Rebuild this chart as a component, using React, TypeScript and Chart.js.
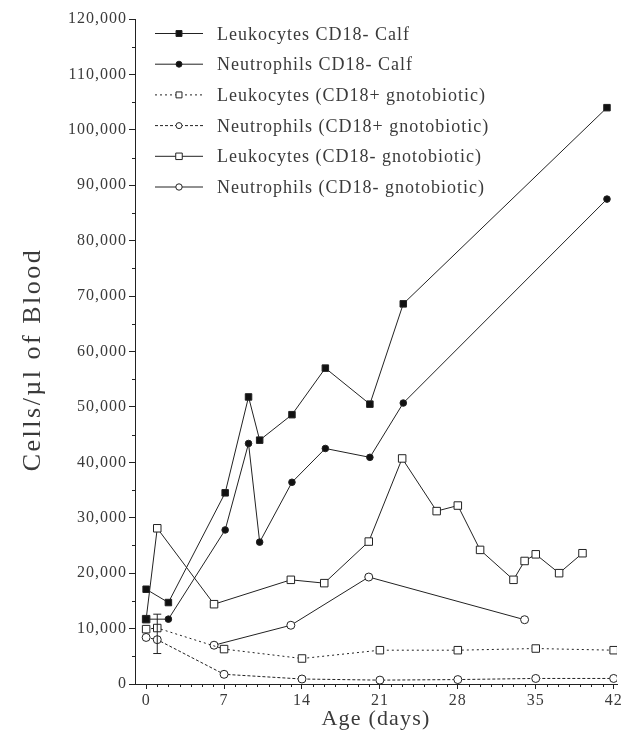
import React, { useEffect, useRef } from "react";
import { Chart, registerables } from "chart.js";

Chart.register(...registerables);

// Axis ticks
const xTickValues = [0, 7, 14, 21, 28, 35, 42];
const yTickValues = [0, 10000, 20000, 30000, 40000, 50000, 60000, 70000, 80000, 90000, 100000, 110000, 120000];
const xMinorStep = 1;
const yMinorStep = 5000;

// Series labels
const seriesLabels = [
  "Leukocytes CD18- Calf",
  "Neutrophils CD18- Calf",
  "Leukocytes (CD18+ gnotobiotic)",
  "Neutrophils (CD18+ gnotobiotic)",
  "Leukocytes (CD18- gnotobiotic)",
  "Neutrophils (CD18- gnotobiotic)",
];

// CD18- calf
const calfDays = [0, 2, 7.1, 9.2, 10.2, 13.1, 16.1, 20.1, 23.1, 41.4];
const leukocytesCalf = [17100, 14700, 34500, 51800, 44000, 48600, 57000, 50500, 68600, 104000];
const neutrophilsCalf = [11700, 11700, 27800, 43400, 25600, 36400, 42500, 40900, 50700, 87500];

// CD18+ gnotobiotic
const plusGnotoDays = [0, 1, 7, 14, 21, 28, 35, 42];
const leukocytesPlusGnoto = [9900, 10100, 6300, 4600, 6100, 6100, 6400, 6100];
const neutrophilsPlusGnoto = [8400, 8000, 1750, 900, 700, 800, 1000, 1000];

// CD18- gnotobiotic
const leukMinusGnotoDays = [0, 1, 6.1, 13, 16, 20, 23, 26.1, 28, 30, 33, 34, 35, 37.1, 39.2];
const leukocytesMinusGnoto = [11700, 28100, 14400, 18800, 18200, 25700, 40700, 31200, 32200, 24200, 18800, 22200, 23400, 20000, 23600];
const neutMinusGnotoDays = [6.1, 13, 20, 34];
const neutrophilsMinusGnoto = [7000, 10600, 19300, 11600];

// Error bar
const errorDays = [1];
const errorLow = [5500];
const errorHigh = [12600];

const INK = "#222";
const TEXT = "#3a3a3a";

type SeriesDef = {
  label: string;
  days: number[];
  values: number[];
  shape: "rect" | "circle";
  filled: boolean;
  dash: number[];
  radius: number;
  legendRadius: number;
};

export default function App() {
  const ref = useRef<HTMLCanvasElement>(null);

  useEffect(() => {
    if (!ref.current) return;
    const series: SeriesDef[] = [
      { label: seriesLabels[0], days: calfDays, values: leukocytesCalf, shape: "rect", filled: true, dash: [], radius: 4.6, legendRadius: 4.2 },
      { label: seriesLabels[1], days: calfDays, values: neutrophilsCalf, shape: "circle", filled: true, dash: [], radius: 3.3, legendRadius: 3 },
      { label: seriesLabels[2], days: plusGnotoDays, values: leukocytesPlusGnoto, shape: "rect", filled: false, dash: [2, 3], radius: 5.3, legendRadius: 4.2 },
      { label: seriesLabels[3], days: plusGnotoDays, values: neutrophilsPlusGnoto, shape: "circle", filled: false, dash: [3, 2], radius: 4, legendRadius: 3 },
      { label: seriesLabels[4], days: leukMinusGnotoDays, values: leukocytesMinusGnoto, shape: "rect", filled: false, dash: [], radius: 5.3, legendRadius: 4.6 },
      { label: seriesLabels[5], days: neutMinusGnotoDays, values: neutrophilsMinusGnoto, shape: "circle", filled: false, dash: [], radius: 4, legendRadius: 3.2 },
    ];

    const datasets = series.map((s, si) => ({
      label: s.label,
      data: s.days.map((d, i) => ({ x: d, y: s.values[i] })),
      borderColor: INK,
      borderWidth: 1,
      borderDash: s.dash,
      pointStyle: si === 1 ? (c: any) => (c.dataIndex === 0 ? "rect" : "circle") : s.shape,
      pointRadius: si === 1 ? (c: any) => (c.dataIndex === 0 ? 4.6 : s.radius) : s.radius,
      pointBackgroundColor: s.filled ? "#111" : "#fff",
      pointBorderColor: INK,
      pointBorderWidth: 1,
      pointHoverRadius: s.radius,
      tension: 0,
      fill: false,
    }));

    const drawMarker = (ctx: CanvasRenderingContext2D, x: number, y: number, s: SeriesDef) => {
      ctx.beginPath();
      if (s.shape === "rect") {
        const h = s.legendRadius * Math.SQRT1_2;
        ctx.rect(x - h, y - h, 2 * h, 2 * h);
      } else {
        ctx.arc(x, y, s.legendRadius, 0, Math.PI * 2);
      }
      ctx.fillStyle = s.filled ? "#111" : "#fff";
      ctx.fill();
      ctx.lineWidth = 1;
      ctx.strokeStyle = INK;
      ctx.setLineDash([]);
      ctx.stroke();
    };

    const overlay = {
      id: "overlay",
      beforeDraw(chart: any) {
        (chart.ctx as any).letterSpacing = "1px";
      },
      afterDatasetsDraw(chart: any) {
        const ctx: CanvasRenderingContext2D = chart.ctx;
        const xs = chart.scales.x;
        const ys = chart.scales.y;
        const area = chart.chartArea;
        ctx.save();
        ctx.strokeStyle = INK;
        ctx.lineWidth = 1;
        ctx.setLineDash([]);
        // minor ticks
        ctx.beginPath();
        for (let v = ys.min; v <= ys.max; v += yMinorStep) {
          if (yTickValues.includes(v)) continue;
          const py = Math.round(ys.getPixelForValue(v)) + 0.5;
          ctx.moveTo(area.left - 3, py);
          ctx.lineTo(area.left, py);
        }
        for (let v = 0; v <= 42; v += xMinorStep) {
          if (xTickValues.includes(v)) continue;
          const px = Math.round(xs.getPixelForValue(v)) + 0.5;
          ctx.moveTo(px, area.bottom);
          ctx.lineTo(px, area.bottom + 3);
        }
        ctx.stroke();
        // error bars
        errorDays.forEach((d, i) => {
          const px = xs.getPixelForValue(d);
          const y1 = ys.getPixelForValue(errorLow[i]);
          const y2 = ys.getPixelForValue(errorHigh[i]);
          ctx.beginPath();
          ctx.moveTo(px, y1);
          ctx.lineTo(px, y2);
          ctx.moveTo(px - 4, y1);
          ctx.lineTo(px + 4, y1);
          ctx.moveTo(px - 4, y2);
          ctx.lineTo(px + 4, y2);
          ctx.stroke();
        });
        ctx.restore();
      },
      afterDraw(chart: any) {
        const ctx: any = chart.ctx;
        const area = chart.chartArea;
        ctx.save();
        // Legend
        ctx.font = "18px 'Liberation Serif'";
        ctx.letterSpacing = "1px";
        ctx.textAlign = "left";
        ctx.textBaseline = "alphabetic";
        series.forEach((s, i) => {
          const base = 39.5 + i * 30.7;
          const ly = base - 6;
          ctx.beginPath();
          ctx.strokeStyle = INK;
          ctx.lineWidth = 1;
          ctx.setLineDash(s.dash);
          ctx.moveTo(155, ly);
          ctx.lineTo(203, ly);
          ctx.stroke();
          drawMarker(ctx, 179, ly, s);
          ctx.fillStyle = TEXT;
          ctx.fillText(s.label, 217, base);
        });
        // Axis titles
        ctx.fillStyle = TEXT;
        ctx.textAlign = "center";
        ctx.font = "22px 'Liberation Serif'";
        ctx.letterSpacing = "1.2px";
        ctx.fillText("Age (days)", (area.left + area.right) / 2, 725);
        ctx.translate(40, (area.top + area.bottom) / 2 + 8);
        ctx.rotate(-Math.PI / 2);
        ctx.font = "26px 'Liberation Serif'";
        ctx.letterSpacing = "2.5px";
        ctx.fillText("Cells/\u00b5l of Blood", 0, 0);
        ctx.restore();
        ctx.letterSpacing = "0px";
      },
    };

    const chart = new Chart(ref.current, {
      type: "line",
      data: { datasets: datasets as any },
      options: {
        animation: false,
        responsive: false,
        devicePixelRatio: 1,
        layout: { padding: { top: 19, right: 22, bottom: 0, left: 0 } },
        plugins: {
          legend: { display: false },
          tooltip: { enabled: false },
        },
        scales: {
          x: {
            type: "linear",
            min: -1,
            max: 42.3,
            afterBuildTicks: (s: any) => {
              s.ticks = xTickValues.map((v) => ({ value: v }));
            },
            afterFit: (s: any) => {
              s.height = 56;
            },
            grid: { display: true, drawOnChartArea: false, drawTicks: true, tickLength: 5, color: INK },
            border: { display: true, color: INK, width: 1 },
            ticks: {
              font: { family: "'Liberation Serif'", size: 16 },
              color: TEXT,
              padding: 2,
              maxRotation: 0,
              autoSkip: false,
            },
          },
          y: {
            type: "linear",
            min: 0,
            max: 120000,
            afterBuildTicks: (s: any) => {
              s.ticks = yTickValues.map((v) => ({ value: v }));
            },
            afterFit: (s: any) => {
              s.width = 135;
            },
            grid: { display: true, drawOnChartArea: false, drawTicks: true, tickLength: 6, color: INK },
            border: { display: true, color: INK, width: 1 },
            ticks: {
              font: { family: "'Liberation Serif'", size: 16 },
              color: TEXT,
              padding: 2,
              autoSkip: false,
              callback: (v: any) => Number(v).toLocaleString("en-US"),
            },
          },
        },
      },
      plugins: [overlay],
    });
    return () => chart.destroy();
  }, []);

  return (
    <div style={{ position: "absolute", left: 0, top: 0, width: 639, height: 740, background: "#fff" }}>
      <canvas ref={ref} width={639} height={740} style={{ display: "block" }} />
    </div>
  );
}
